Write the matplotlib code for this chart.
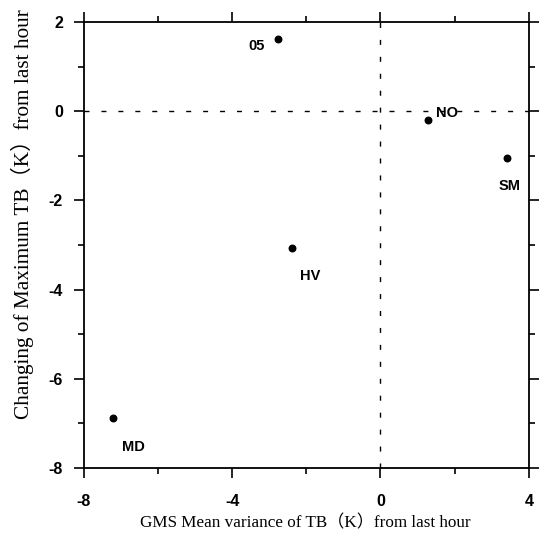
import matplotlib
matplotlib.use("Agg")
import matplotlib.pyplot as plt
from matplotlib.ticker import MultipleLocator

plt.rcParams["axes.unicode_minus"] = False

names = ["05", "NO", "SM", "HV", "MD"]
mean_var = [-2.77, 1.27, 3.4, -2.39, -7.22]
max_change = [1.62, -0.2, -1.05, -3.07, -6.88]
label_offsets = [(-21, -5), (6, 5), (-6, -20), (6, -20), (7, -21)]

fig = plt.figure(figsize=(5.44, 5.36), dpi=100)
ax = fig.add_axes([0.154, 0.127, 0.818, 0.832])

ax.scatter(mean_var, max_change, s=22, color="black", zorder=3)
for n, x, y, (dx, dy) in zip(names, mean_var, max_change, label_offsets):
    ax.annotate(n, (x, y), xytext=(dx, dy), textcoords="offset points",
                fontsize=10.5, fontweight="bold", family="Liberation Sans",
                va="center", ha="left")

dash = (0, (3.6, 8.6))
ax.axhline(0, color="black", lw=1, ls=dash)
ax.axvline(0, color="black", lw=1, ls=dash)

ax.set_xlim(-8, 4)
ax.set_ylim(-8, 2)
ax.xaxis.set_major_locator(MultipleLocator(4))
ax.xaxis.set_minor_locator(MultipleLocator(2))
ax.yaxis.set_major_locator(MultipleLocator(2))
ax.yaxis.set_minor_locator(MultipleLocator(1))
ax.tick_params(which="both", direction="out", top=True, right=True,
               width=1.2, labelsize=11.5)
ax.tick_params(which="major", length=7)
ax.tick_params(which="minor", length=4.5)
ax.tick_params(axis="x", which="major", pad=12)
ax.tick_params(axis="y", which="major", pad=8)
for lab in ax.get_xticklabels() + ax.get_yticklabels():
    lab.set_fontweight("bold")
    lab.set_family("Liberation Sans")
for sp in ax.spines.values():
    sp.set_linewidth(1.3)

serif = ["Liberation Serif", "Noto Sans CJK SC"]
ax.set_xlabel("GMS Mean variance of TB（K）from last hour", family=serif,
              fontsize=12.3, va="center")
ax.xaxis.set_label_coords(0.498, -0.123)
ax.set_ylabel("Changing of Maximum TB（K）from last hour", family=serif,
              fontsize=15.3, va="center")
ax.yaxis.set_label_coords(-0.139, 0.57)

fig.savefig("out.png", dpi=100)
